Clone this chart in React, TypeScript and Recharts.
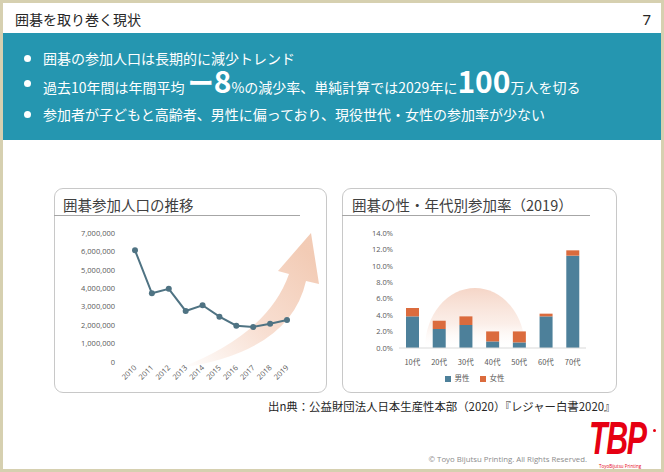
import React from 'react';
import { LineChart, Line, XAxis, YAxis, BarChart, Bar, Legend } from 'recharts';

const years = ['2010', '2011', '2012', '2013', '2014', '2015', '2016', '2017', '2018', '2019'];
const participants = [6060000, 3730000, 3970000, 2770000, 3080000, 2460000, 1970000, 1900000, 2080000, 2280000];
const populationTicks = [0, 1000000, 2000000, 3000000, 4000000, 5000000, 6000000, 7000000];

const ageGroups = ['10代', '20代', '30代', '40代', '50代', '60代', '70代'];
const maleRates = [3.85, 2.31, 2.8, 0.8, 0.68, 3.85, 11.24];
const femaleRates = [1.02, 1.01, 1.05, 1.22, 1.34, 0.33, 0.65];
const rateTicks = [0, 2, 4, 6, 8, 10, 12, 14];
const seriesOrder = ['male', 'female'];

const lineData = years.map((y, i) => ({ year: y, value: participants[i] }));
const barData = ageGroups.map((a, i) => ({ age: a, male: maleRates[i], female: femaleRates[i] }));

const JP = '"Noto Sans CJK JP", "Noto Sans", sans-serif';
const TICK = '"Open Sans", "Noto Sans", sans-serif';
const TEAL = '#2596b0';
const LINE = '#4f7383';
const MALE = '#4d809a';
const FEMALE = '#db6b3d';

const YearTick = (props: any) => {
  const { x, y, payload } = props;
  return (
    <text x={x} y={y} dy={3} transform={`rotate(-45 ${x} ${y})`} textAnchor="end"
      fontSize={7.5} fill="#595959" fontFamily={TICK}>
      {payload.value}
    </text>
  );
};

const Bullet = ({ top, children }: { top: number; children: React.ReactNode }) => (
  <div style={{ position: 'absolute', left: 21, top, height: 20, display: 'flex', alignItems: 'center', whiteSpace: 'nowrap' }}>
    <div style={{ width: 7, height: 7, borderRadius: 4, background: '#fff', marginRight: 12 }} />
    <div style={{ color: '#fff', fontSize: 14, fontFamily: JP, lineHeight: '20px' }}>{children}</div>
  </div>
);

export default function App() {
  return (
    <div style={{ position: 'absolute', left: 0, top: 0, width: 664, height: 472, background: '#fff', boxSizing: 'border-box', border: '3px solid #d6d0b0', overflow: 'hidden', fontFamily: JP }}>
      {/* Title bar */}
      <div style={{ position: 'absolute', left: 12, top: 6, fontSize: 14, color: '#262626', lineHeight: '20px' }}>囲碁を取り巻く現状</div>
      <div style={{ position: 'absolute', right: 10, top: 6, fontSize: 15, color: '#262626', lineHeight: '20px', fontFamily: '"Noto Sans", sans-serif' }}>7</div>

      {/* Teal band */}
      <div style={{ position: 'absolute', left: 0, top: 30, width: 658, height: 107, background: TEAL }} />
      <Bullet top={45}>囲碁の参加人口は長期的に減少トレンド</Bullet>
      <Bullet top={70}>
        <span>過去10年間は年間平均 </span>
        <span style={{ fontSize: 26, fontWeight: 700, lineHeight: '20px' }}>ー</span>
        <span style={{ fontSize: 30, fontWeight: 700, lineHeight: '20px' }}>8</span>
        <span>%の減少率、単純計算では2029年に</span>
        <span style={{ fontSize: 30, fontWeight: 700, lineHeight: '20px' }}>100</span>
        <span>万人を切る</span>
      </Bullet>
      <Bullet top={101}>参加者が子どもと高齢者、男性に偏っており、現役世代・女性の参加率が少ない</Bullet>

      {/* Panels */}
      <div style={{ position: 'absolute', left: 51, top: 185, width: 273, height: 205, border: '1px solid #c8c8c8', borderRadius: 9, boxSizing: 'border-box', background: '#fff' }} />
      <div style={{ position: 'absolute', left: 339, top: 185, width: 275, height: 205, border: '1px solid #c8c8c8', borderRadius: 9, boxSizing: 'border-box', background: '#fff' }} />
      <div style={{ position: 'absolute', left: 60, top: 192, fontSize: 14.5, color: '#404040', lineHeight: '20px' }}>囲碁参加人口の推移</div>
      <div style={{ position: 'absolute', left: 51, top: 212, width: 246, height: 1, background: '#a6a6a6' }} />
      <div style={{ position: 'absolute', left: 349, top: 192, fontSize: 14.5, color: '#404040', lineHeight: '20px' }}>囲碁の性・年代別参加率（2019）</div>
      <div style={{ position: 'absolute', left: 339, top: 212, width: 248, height: 1, background: '#a6a6a6' }} />

      {/* Decorations */}
      <svg width={658} height={466} style={{ position: 'absolute', left: 0, top: 0 }}>
        <defs>
          <linearGradient id="arrowGrad" x1="177" y1="365" x2="300" y2="245" gradientUnits="userSpaceOnUse">
            <stop offset="0" stopColor="#f3c9b3" stopOpacity={0} />
            <stop offset="0.5" stopColor="#f3c9b3" stopOpacity={0.6} />
            <stop offset="1" stopColor="#f0c2a8" stopOpacity={0.85} />
          </linearGradient>
          <linearGradient id="sunGrad" x1="0" y1="0" x2="0" y2="1">
            <stop offset="0" stopColor="#f3cbb9" stopOpacity={0.8} />
            <stop offset="0.6" stopColor="#f8e1d6" stopOpacity={0.55} />
            <stop offset="1" stopColor="#ffffff" stopOpacity={0.1} />
          </linearGradient>
        </defs>
        <path d="M 308 230 L 316 281 L 303 278 Q 287 349 177 365 Q 265 331 286 271 L 275 268 Z" fill="url(#arrowGrad)" />
        <path d="M 422 345 A 50 60 0 0 1 522 345 Z" fill="url(#sunGrad)" />
      </svg>

      {/* Line chart */}
      <div style={{ position: 'absolute', left: 51, top: 215 }}>
        <LineChart width={273} height={175} data={lineData} margin={{ top: 15, right: 40, bottom: 0, left: 0 }}>
          <XAxis dataKey="year" axisLine={false} tickLine={false} tickSize={0} tickMargin={4} height={31} interval={0} tick={<YearTick />} />
          <YAxis domain={[0, 7000000]} ticks={populationTicks} axisLine={false} tickLine={false} tickSize={0} tickMargin={20} width={81}
            tickFormatter={(v: number) => v.toLocaleString('en-US')}
            tick={{ fontSize: 7.5, fill: '#595959', fontFamily: TICK }} />
          <Line dataKey="value" stroke={LINE} strokeWidth={2} dot={{ r: 3, fill: LINE, stroke: LINE, strokeWidth: 0 }} isAnimationActive={false} />
        </LineChart>
      </div>

      {/* Bar chart */}
      <div style={{ position: 'absolute', left: 339, top: 215 }}>
        <BarChart width={275} height={175} data={barData} margin={{ top: 15, right: 31, bottom: 4, left: 0 }} barSize={13}>
          <XAxis dataKey="age" axisLine={{ stroke: '#d9d9d9' }} tickLine={false} tickSize={0} tickMargin={12} height={25} interval={0}
            tick={{ fontSize: 7.5, fill: '#595959', fontFamily: JP }} />
          <YAxis domain={[0, 14]} ticks={rateTicks} axisLine={false} tickLine={false} tickSize={0} tickMargin={6} width={57}
            tickFormatter={(v: number) => v.toFixed(1) + '%'}
            tick={{ fontSize: 7.5, fill: '#595959', fontFamily: TICK }} />
          <Legend verticalAlign="bottom" height={16} iconType="square" iconSize={6}
            itemSorter={(item: any) => seriesOrder.indexOf(item.dataKey)}
            wrapperStyle={{ left: 0, width: 275, fontSize: 7.5, fontFamily: JP, lineHeight: '10px' }}
            formatter={(value: string) => <span style={{ color: '#595959' }}>{value}</span>} />
          <Bar dataKey="male" name="男性" stackId="a" fill={MALE} isAnimationActive={false} />
          <Bar dataKey="female" name="女性" stackId="a" fill={FEMALE} isAnimationActive={false} />
        </BarChart>
      </div>

      {/* Footer */}
      <div style={{ position: 'absolute', left: 265, top: 395, fontSize: 11.4, color: '#262626', lineHeight: '16px', whiteSpace: 'nowrap' }}>出n典：公益財団法人日本生産性本部（2020）『レジャー白書2020』</div>
      <div style={{ position: 'absolute', right: 74, top: 451, fontSize: 7.8, color: '#8c8c8c', lineHeight: '10px', fontFamily: TICK, whiteSpace: 'nowrap' }}>© Toyo Bijutsu Printing. All Rights Reserved.</div>
      <div style={{ position: 'absolute', left: 586, top: 412, fontSize: 46, fontWeight: 700, fontStyle: 'italic', color: '#e60012', lineHeight: '46px', fontFamily: '"Liberation Sans", Arial, sans-serif', transform: 'scaleX(0.66)', transformOrigin: 'left top', letterSpacing: -2 }}>TBP</div>
      <div style={{ position: 'absolute', left: 650, top: 426, width: 3, height: 3, borderRadius: 2, background: '#e60012' }} />
      <div style={{ position: 'absolute', left: 596, top: 460, fontSize: 4.5, color: '#e60012', lineHeight: '6px', fontFamily: TICK, whiteSpace: 'nowrap' }}>ToyoBijutsu Printing</div>
    </div>
  );
}
